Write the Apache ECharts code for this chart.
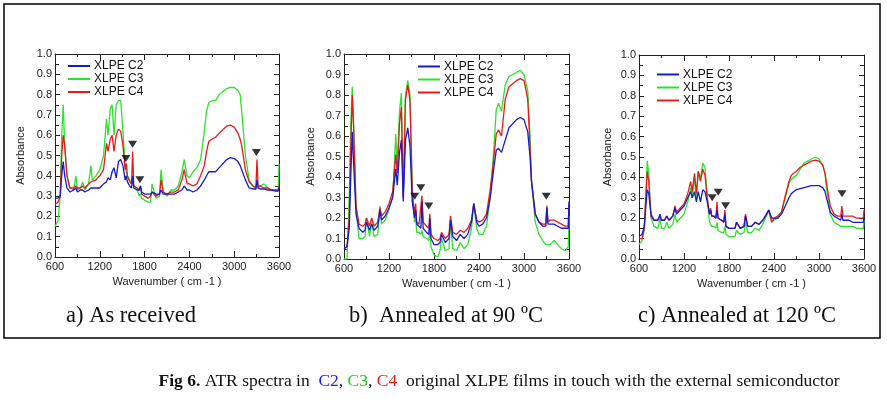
<!DOCTYPE html>
<html><head><meta charset="utf-8">
<script src="https://cdn.jsdelivr.net/npm/echarts@6/dist/echarts.min.js"></script>
<style>html,body{margin:0;padding:0;background:#fff}#c{width:887px;height:399px}</style>
</head><body><div id="c"></div>
<script>
// ---- data ----
const wavenumbers = [600,640,670,690,710,730,760,800,850,880,900,940,970,1000,1050,1080,1100,1150,1200,1250,1290,1310,1340,1365,1390,1420,1450,1480,1510,1540,1555,1570,1600,1625,1640,1655,1700,1730,1745,1760,1800,1850,1880,1900,1950,2000,2020,2050,2100,2150,2200,2250,2300,2330,2370,2400,2450,2500,2550,2600,2630,2660,2700,2750,2800,2900,2950,3000,3050,3080,3100,3150,3200,3250,3290,3305,3320,3350,3400,3450,3500,3550,3590,3600];

const a_C2 = [0.29,0.29,0.30,0.40,0.47,0.40,0.34,0.32,0.33,0.34, 0.32,0.33,0.33,0.32,0.33,0.34,0.34,0.34,0.34,0.36, 0.37,0.39,0.38,0.42,0.44,0.39,0.47,0.48,0.45,0.38, 0.40,0.37,0.35,0.34,0.40,0.34,0.33,0.33,0.35,0.32, 0.31,0.31,0.31,0.32,0.31,0.31,0.33,0.31,0.31,0.31, 0.31,0.32,0.33,0.35,0.33,0.33,0.32,0.33,0.35,0.38, 0.40,0.42,0.42,0.42,0.44,0.48,0.49,0.485,0.47,0.45, 0.43,0.38,0.34,0.335,0.335,0.38,0.34,0.335,0.335,0.33, 0.33,0.325,0.325,0.34];
const a_C3 = [0.15,0.18,0.30,0.60,0.75,0.55,0.40,0.34,0.33,0.40, 0.33,0.34,0.37,0.33,0.36,0.45,0.38,0.40,0.43,0.50, 0.68,0.60,0.73,0.75,0.60,0.75,0.77,0.77,0.62,0.45, 0.42,0.40,0.38,0.37,0.38,0.35,0.33,0.30,0.31,0.29, 0.28,0.27,0.27,0.36,0.29,0.30,0.43,0.32,0.30,0.33, 0.33,0.35,0.42,0.48,0.40,0.39,0.42,0.44,0.48,0.62, 0.72,0.76,0.77,0.77,0.80,0.83,0.835,0.835,0.82,0.80, 0.72,0.50,0.38,0.35,0.34,0.345,0.34,0.35,0.36,0.34, 0.33,0.33,0.33,0.46];
const a_C4 = [0.26,0.27,0.30,0.50,0.60,0.55,0.40,0.34,0.34,0.35, 0.34,0.34,0.35,0.34,0.36,0.37,0.37,0.38,0.40,0.43, 0.56,0.52,0.58,0.60,0.52,0.60,0.63,0.62,0.55,0.43, 0.46,0.40,0.37,0.36,0.52,0.35,0.34,0.33,0.35,0.31, 0.30,0.29,0.30,0.32,0.30,0.31,0.38,0.32,0.31,0.32, 0.32,0.33,0.38,0.43,0.36,0.36,0.35,0.36,0.40,0.45, 0.52,0.57,0.58,0.59,0.61,0.645,0.65,0.64,0.61,0.58, 0.55,0.43,0.37,0.35,0.34,0.48,0.35,0.35,0.34,0.34, 0.33,0.33,0.33,0.35];

const b_C2 = [0.05,0.06,0.15,0.40,0.62,0.45,0.22,0.15,0.13,0.14, 0.18,0.14,0.17,0.14,0.16,0.24,0.19,0.21,0.25,0.30, 0.44,0.36,0.52,0.58,0.28,0.58,0.64,0.55,0.28,0.20, 0.24,0.17,0.16,0.15,0.28,0.15,0.13,0.12,0.20,0.10, 0.07,0.07,0.08,0.12,0.08,0.10,0.19,0.11,0.09,0.12, 0.10,0.12,0.18,0.27,0.18,0.16,0.17,0.20,0.30,0.45, 0.53,0.54,0.52,0.58,0.64,0.68,0.69,0.68,0.62,0.50, 0.38,0.22,0.18,0.16,0.16,0.25,0.17,0.17,0.17,0.16, 0.15,0.15,0.15,0.28];
const b_C3 = [0.0,0.0,0.30,0.65,0.84,0.65,0.25,0.10,0.10,0.11, 0.20,0.11,0.18,0.11,0.12,0.26,0.17,0.19,0.24,0.31, 0.61,0.45,0.72,0.81,0.30,0.80,0.87,0.80,0.35,0.18, 0.20,0.13,0.13,0.12,0.14,0.11,0.10,0.09,0.15,0.06, 0.02,0.01,0.04,0.10,0.04,0.05,0.18,0.05,0.04,0.08, 0.05,0.07,0.15,0.27,0.15,0.12,0.12,0.16,0.30,0.55, 0.73,0.76,0.72,0.85,0.89,0.91,0.92,0.90,0.82,0.60, 0.38,0.18,0.12,0.09,0.07,0.07,0.07,0.07,0.09,0.07, 0.05,0.04,0.06,0.21];
const b_C4 = [0.05,0.06,0.20,0.55,0.80,0.62,0.26,0.17,0.16,0.17, 0.20,0.16,0.20,0.16,0.18,0.25,0.21,0.23,0.27,0.33, 0.51,0.42,0.66,0.74,0.30,0.78,0.85,0.77,0.32,0.22, 0.27,0.18,0.17,0.17,0.31,0.18,0.16,0.15,0.22,0.12, 0.10,0.09,0.10,0.13,0.10,0.12,0.21,0.13,0.12,0.14, 0.13,0.15,0.19,0.27,0.19,0.18,0.19,0.22,0.34,0.50, 0.61,0.63,0.60,0.78,0.84,0.87,0.88,0.87,0.78,0.55, 0.38,0.22,0.18,0.17,0.17,0.26,0.18,0.19,0.19,0.18, 0.17,0.16,0.16,0.27];

const c_C2 = [0.11,0.12,0.16,0.25,0.34,0.32,0.22,0.19,0.19,0.22, 0.19,0.19,0.21,0.19,0.21,0.25,0.22,0.24,0.26,0.30, 0.33,0.30,0.33,0.28,0.33,0.28,0.34,0.33,0.28,0.22, 0.24,0.21,0.21,0.20,0.24,0.20,0.19,0.18,0.22,0.16, 0.15,0.15,0.15,0.18,0.15,0.16,0.21,0.16,0.16,0.18, 0.17,0.19,0.22,0.24,0.20,0.20,0.20,0.22,0.26,0.30, 0.32,0.33,0.34,0.345,0.35,0.36,0.36,0.36,0.35,0.33, 0.30,0.23,0.21,0.20,0.19,0.22,0.19,0.19,0.19,0.18, 0.18,0.18,0.18,0.20];
const c_C3 = [0.07,0.09,0.14,0.30,0.48,0.42,0.20,0.16,0.15,0.20, 0.15,0.15,0.18,0.15,0.17,0.22,0.18,0.20,0.22,0.28, 0.35,0.30,0.40,0.30,0.43,0.40,0.47,0.45,0.30,0.18, 0.18,0.16,0.16,0.15,0.18,0.14,0.13,0.13,0.16,0.12, 0.11,0.11,0.11,0.14,0.12,0.13,0.18,0.13,0.13,0.15, 0.14,0.17,0.21,0.24,0.18,0.19,0.20,0.23,0.30,0.37, 0.39,0.40,0.41,0.44,0.47,0.49,0.50,0.49,0.46,0.42, 0.35,0.22,0.18,0.17,0.16,0.16,0.16,0.16,0.16,0.16, 0.15,0.15,0.15,0.19];
const c_C4 = [0.10,0.10,0.15,0.30,0.43,0.38,0.21,0.19,0.19,0.21, 0.19,0.19,0.21,0.19,0.21,0.26,0.23,0.25,0.27,0.32, 0.38,0.33,0.42,0.32,0.43,0.38,0.44,0.41,0.30,0.22, 0.25,0.21,0.21,0.20,0.28,0.20,0.19,0.18,0.24,0.16, 0.15,0.15,0.15,0.18,0.15,0.16,0.22,0.16,0.16,0.18, 0.17,0.19,0.22,0.24,0.18,0.20,0.21,0.23,0.31,0.38, 0.41,0.42,0.43,0.45,0.46,0.48,0.485,0.48,0.46,0.42, 0.37,0.26,0.22,0.21,0.21,0.26,0.21,0.21,0.21,0.21, 0.20,0.20,0.20,0.24];

// peak markers (downward triangles): [wavenumber, absorbance]
const markersA = [[1550,0.485],[1639,0.555],[1737,0.38],[3297,0.515]];
const markersB = [[1543,0.306],[1624,0.347],[1730,0.259],[3297,0.306]];
const markersC = [[1576,0.30],[1656,0.327],[1754,0.261],[3307,0.32]];

const seriesNames = ['XLPE C2','XLPE C3','XLPE C4'];
const panelTitles = ['a) As received','b)  Annealed at 90 \u00baC','c) Annealed at 120 \u00baC'];
const xMin = 600, xMax = 3600, xStep = 600;
const yMin = 0, yMax = 1, yStep = 0.1;
const xName = 'Wavenumber ( cm -1 )';
const yName = 'Absorbance';

// ---- chart ----
const colors = ['#1a1ac8', '#2fe02f', '#e21c1c'];
const panels = [
  {vals:[a_C2,a_C3,a_C4], marks:markersA, grid:{left:55,top:54,width:224,height:203}, legend:{left:68,top:59.5}, nameGapY:29, titleX:131},
  {vals:[b_C2,b_C3,b_C4], marks:markersB, grid:{left:344,top:54,width:225,height:205}, legend:{left:418,top:60}, nameGapY:28, titleX:446},
  {vals:[c_C2,c_C3,c_C4], marks:markersC, grid:{left:639,top:55,width:225,height:204}, legend:{left:657,top:68}, nameGapY:26, titleX:737}
];
const axisColor = '#222';
const font = 'Liberation Sans, Arial, sans-serif';
const serif = 'Liberation Serif, Times New Roman, serif';
const grids=[], xAxes=[], yAxes=[], series=[], legends=[], graphics=[];
panels.forEach((p, i) => {
  grids.push(Object.assign({containLabel:false}, p.grid));
  const baseX = {type:'value', gridIndex:i, min:xMin, max:xMax, interval:xStep,
    axisLine:{show:true, onZero:false, lineStyle:{color:axisColor, width:1}},
    axisTick:{show:true, inside:true, length:6, lineStyle:{color:axisColor}},
    minorTick:{show:true, splitNumber:2, length:3, lineStyle:{color:axisColor}},
    splitLine:{show:false}, minorSplitLine:{show:false}};
  xAxes.push(Object.assign({}, baseX, {position:'bottom',
    axisLabel:{fontSize:11, color:axisColor, margin:4, fontFamily:font, formatter:v=>String(v)},
    name:xName, nameLocation:'middle', nameGap:19,
    nameTextStyle:{fontSize:11, color:axisColor, fontFamily:font}}));
  xAxes.push(Object.assign({}, baseX, {position:'top', axisLabel:{show:false}}));
  const baseY = {type:'value', gridIndex:i, min:yMin, max:yMax, interval:yStep,
    axisLine:{show:true, onZero:false, lineStyle:{color:axisColor, width:1}},
    axisTick:{show:true, inside:true, length:5, lineStyle:{color:axisColor}},
    minorTick:{show:true, splitNumber:2, length:4, lineStyle:{color:axisColor}},
    splitLine:{show:false}, minorSplitLine:{show:false}};
  yAxes.push(Object.assign({}, baseY, {position:'left',
    axisLabel:{fontSize:11, color:axisColor, margin:3, fontFamily:font, formatter:v=>v.toFixed(1)},
    name:yName, nameLocation:'middle', nameGap:p.nameGapY,
    nameTextStyle:{fontSize:11, color:axisColor, fontFamily:font}}));
  yAxes.push(Object.assign({}, baseY, {position:'right', axisLabel:{show:false}}));
  p.vals.forEach((vals, k) => {
    series.push({type:'line', name:seriesNames[k], xAxisIndex:2*i, yAxisIndex:2*i,
      data: wavenumbers.map((w, j) => [w, vals[j]]),
      showSymbol:false, symbol:'none', clip:true, animation:false, z: k===0 ? 5 : (k===2 ? 4 : 3),
      lineStyle:{color:colors[k], width:1.3}, itemStyle:{color:colors[k]}});
  });
  series.push({type:'scatter', name:'marks'+i, xAxisIndex:2*i, yAxisIndex:2*i, data:p.marks,
    symbol:'triangle', symbolRotate:180, symbolSize:[9,7], itemStyle:{color:'#000'}, z:10, animation:false});
  legends.push({data:seriesNames, orient:'vertical', left:p.legend.left, top:p.legend.top, padding:0,
    itemGap:0, itemWidth:22, itemHeight:2, icon:'rect', selectedMode:false,
    textStyle:{fontSize:12, color:'#111', fontFamily:font, lineHeight:13, padding:[0,0,0,-1]}});
  graphics.push({type:'text', style:{text:panelTitles[i], fontSize:22.5,
    fontFamily:serif, fill:'#111', textAlign:'center', textVerticalAlign:'middle',
    x:p.titleX, y:316}});
});
graphics.push({type:'rect', shape:{x:4, y:4, width:876, height:334}, style:{fill:'none', stroke:'#000', lineWidth:1.5}, z:-1});
graphics.push({type:'text', style:{
  text:'{b|Fig 6.} ATR spectra in  {bl|C2}, {g|C3}, {r|C4}  original XLPE films in touch with the external semiconductor',
  x:499, y:381, textAlign:'center', textVerticalAlign:'middle', fontSize:17.5,
  fontFamily:serif, fill:'#111',
  rich:{b:{fontWeight:'bold', fontSize:17.5, fontFamily:serif, fill:'#111'},
        bl:{fill:'#2222dd', fontSize:17.5, fontFamily:serif},
        g:{fill:'#22cc22', fontSize:17.5, fontFamily:serif},
        r:{fill:'#dd2222', fontSize:17.5, fontFamily:serif}}}});

const chart = echarts.init(document.getElementById('c'), null, {renderer:'canvas'});
chart.setOption({backgroundColor:'#fff', animation:false, grid:grids, xAxis:xAxes, yAxis:yAxes,
  series:series, legend:legends, graphic:graphics});
</script></body></html>
